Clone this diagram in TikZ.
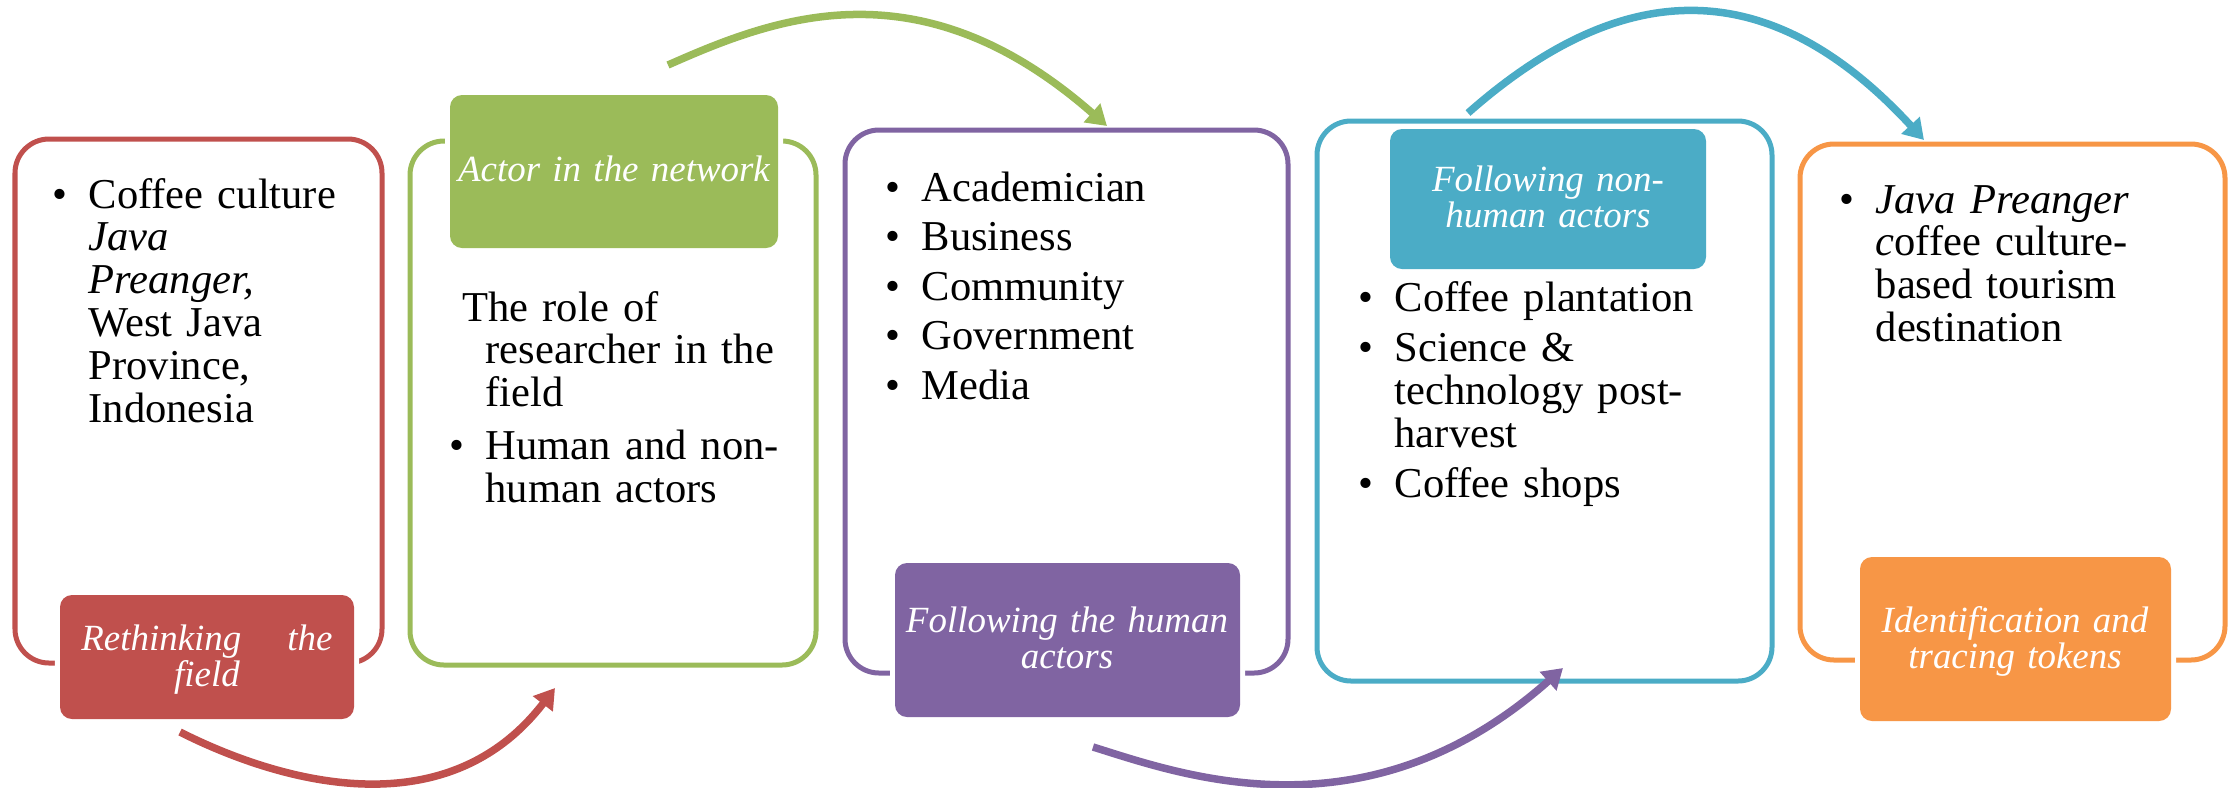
\documentclass[tikz,border=0pt]{standalone}
\usepackage{fontspec}
\setmainfont{Liberation Serif}
\usetikzlibrary{arrows.meta,fit}

\definecolor{cRed}{HTML}{C0504D}
\definecolor{cGreen}{HTML}{9BBB59}
\definecolor{cPurple}{HTML}{8064A2}
\definecolor{cBlue}{HTML}{4BACC6}
\definecolor{cOrange}{HTML}{F79646}

\newcommand\bxfont{\fontsize{12.1pt}{12.2pt}\selectfont}
\newcommand\tgfont{\itshape\fontsize{10.5pt}{10.3pt}\selectfont}
\newcommand\bul{\leavevmode\llap{\textbullet\hspace{0.21cm}}}

\tikzset{
  frame/.style={draw=#1, line width=0.05cm, rounded corners=0.34cm, inner sep=0pt},
  tag/.style={fill=#1, preaction={draw=white, line width=0.1cm},
    rounded corners=0.12cm, inner sep=0pt},
  tagtext/.style={anchor=base, inner sep=0pt, text width=3.4cm, align=center,
    text=white, font=\tgfont},
  body/.style={anchor=base west, inner sep=0pt, text width=4.2cm, align=left, font=\bxfont},
  flow/.style={draw=#1, line width=0.075cm, -{Triangle[length=0.2cm,width=0.24cm]}},
}

\begin{document}
\begin{tikzpicture}[x=0.01cm, y=-0.01cm]
\useasboundingbox (0,0) rectangle (2236,787);

% outer frames of the five stages
\node[frame=cRed,    fit={(15,139) (382,663)}]    (f1) {};
\node[frame=cGreen,  fit={(410,141) (816,665)}]   (f2) {};
\node[frame=cPurple, fit={(845,130) (1288,673)}]  (f3) {};
\node[frame=cBlue,   fit={(1317,121) (1772,681)}] (f4) {};
\node[frame=cOrange, fit={(1800,144) (2225,660)}] (f5) {};

% stage title boxes
\node[tag=cRed,    fit={(60,595) (354,719)}]    (t1) {};
\node[tag=cGreen,  fit={(450,95) (778,248)}]    (t2) {};
\node[tag=cPurple, fit={(895,563) (1240,717)}]  (t3) {};
\node[tag=cBlue,   fit={(1390,129) (1706,269)}] (t4) {};
\node[tag=cOrange, fit={(1860,557) (2171,721)}] (t5) {};

% stage titles
\node[tagtext] (n1) at (207,650)   {\makebox[2.51cm][s]{Rethinking\hfill the}\\field};
\node[tagtext] (n2) at (614,181)   {Actor in the network};
\node[tagtext] (n3) at (1067,632)  {Following the human\\actors};
\node[tagtext] (n4) at (1548,191)  {Following non-\\human actors};
\node[tagtext] (n5) at (2015,632)  {Identification and\\tracing tokens};

% stage contents
\node[body] (b1) at (88,208) {\bul Coffee culture\\\textit{Java}\\\textit{Preanger,}\\West Java\\Province,\\Indonesia};
\node[body] (b2) at (485,321) {\hspace*{-0.233cm}The role of\\researcher in the\\field\\[0.1cm]\bul Human and non-\\human actors};
\node[body] (b3) at (921,201) {\bul Academician\\[0.067cm]\bul Business\\[0.067cm]\bul Community\\[0.067cm]\bul Government\\[0.067cm]\bul Media};
\node[body] (b4) at (1394,311) {\bul Coffee plantation\\[0.08cm]\bul Science \&\\technology post-\\harvest\\[0.07cm]\bul Coffee shops};
\node[body] (b5) at (1875,213) {\bul\textit{Java Preanger}\\\textit{c}offee culture-\\based tourism\\destination};

% curved arrows between the stages
\coordinate (a1s) at (180,732);  \coordinate (a1e) at (555,688);
\coordinate (a2s) at (668,65);   \coordinate (a2e) at (1107,126);
\coordinate (a3s) at (1093,747); \coordinate (a3e) at (1563,668);
\coordinate (a4s) at (1468,113); \coordinate (a4e) at (1924,140);

\draw[flow=cRed]    (a1s) .. controls (277,781) and (445,831) .. (a1e);
\draw[flow=cGreen]  (a2s) .. controls (774,18) and (919,-39) .. (a2e);
\draw[flow=cPurple] (a3s) .. controls (1180,774) and (1366,843) .. (a3e);
\draw[flow=cBlue]   (a4s) .. controls (1614,-16) and (1762,-36) .. (a4e);
\end{tikzpicture}
\end{document}
